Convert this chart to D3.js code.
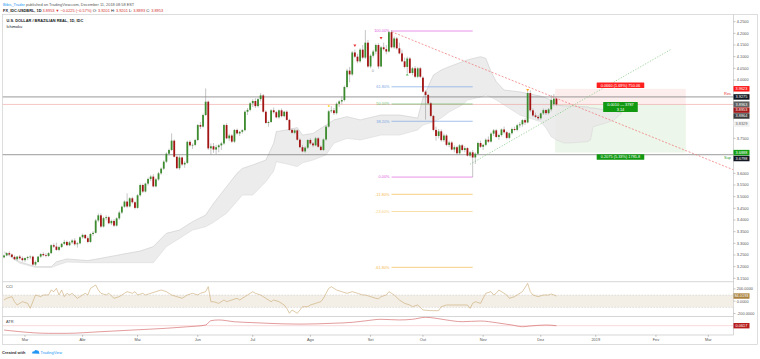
<!DOCTYPE html>
<html><head><meta charset="utf-8">
<script src="https://cdn.jsdelivr.net/npm/d3@7"></script>
<style>
body{margin:0;background:#fff;}
text{font-family:"Liberation Sans",Arial,sans-serif;font-size:3.9px;}
</style>
</head><body>
<svg id="c" width="760" height="359"></svg>
<script>
// ---------- DATA ----------
// one candle per weekday, index 0 = 2018-02-19 ; [open, high, low, close]
const candles = [
[3.240,3.252,3.236,3.248],[3.248,3.262,3.244,3.258],[3.258,3.266,3.248,3.252],[3.252,3.256,3.238,3.242],
[3.242,3.248,3.228,3.232],[3.232,3.246,3.226,3.243],[3.243,3.250,3.230,3.236],[3.236,3.244,3.222,3.228],
[3.228,3.240,3.220,3.237],[3.237,3.246,3.228,3.241],[3.241,3.248,3.232,3.243],[3.243,3.247,3.205,3.209],
[3.209,3.226,3.203,3.220],[3.220,3.246,3.216,3.243],[3.243,3.258,3.238,3.254],[3.254,3.262,3.244,3.249],
[3.249,3.258,3.240,3.246],[3.246,3.262,3.242,3.258],[3.258,3.296,3.254,3.292],[3.292,3.300,3.280,3.286],
[3.286,3.303,3.268,3.272],[3.272,3.290,3.266,3.284],[3.284,3.302,3.280,3.298],[3.298,3.315,3.292,3.306],
[3.306,3.312,3.288,3.292],[3.292,3.310,3.288,3.304],[3.304,3.318,3.298,3.312],[3.312,3.322,3.290,3.296],
[3.296,3.306,3.282,3.300],[3.300,3.330,3.296,3.326],[3.326,3.342,3.320,3.336],[3.336,3.340,3.318,3.322],
[3.322,3.330,3.300,3.306],[3.306,3.345,3.302,3.340],[3.340,3.352,3.332,3.345],[3.345,3.405,3.342,3.398],
[3.398,3.428,3.390,3.420],[3.420,3.428,3.366,3.372],[3.372,3.414,3.368,3.408],[3.408,3.420,3.398,3.412],
[3.412,3.418,3.382,3.386],[3.386,3.402,3.378,3.396],[3.396,3.404,3.370,3.376],[3.376,3.412,3.372,3.407],
[3.407,3.440,3.400,3.432],[3.432,3.462,3.426,3.457],[3.457,3.484,3.452,3.479],[3.479,3.514,3.452,3.458],
[3.458,3.498,3.454,3.493],[3.493,3.500,3.470,3.476],[3.476,3.480,3.446,3.452],[3.452,3.512,3.448,3.506],
[3.506,3.556,3.500,3.550],[3.550,3.556,3.516,3.522],[3.522,3.560,3.518,3.556],[3.556,3.582,3.548,3.576],
[3.576,3.592,3.566,3.586],[3.586,3.596,3.540,3.544],[3.544,3.580,3.540,3.574],[3.574,3.606,3.568,3.600],
[3.600,3.625,3.594,3.620],[3.620,3.656,3.614,3.650],[3.650,3.690,3.644,3.684],[3.684,3.706,3.676,3.700],
[3.700,3.771,3.695,3.740],[3.740,3.745,3.668,3.671],[3.671,3.676,3.618,3.622],[3.622,3.676,3.615,3.668],
[3.668,3.672,3.632,3.638],[3.638,3.652,3.624,3.645],[3.645,3.740,3.640,3.735],[3.735,3.742,3.715,3.720],
[3.720,3.728,3.705,3.722],[3.722,3.748,3.716,3.743],[3.743,3.812,3.738,3.807],[3.807,3.820,3.790,3.800],
[3.800,3.856,3.796,3.850],[3.850,3.964,3.845,3.907],[3.907,3.912,3.700,3.707],[3.707,3.728,3.680,3.716],
[3.716,3.730,3.688,3.702],[3.702,3.722,3.682,3.712],[3.712,3.725,3.690,3.720],[3.720,3.735,3.700,3.728],
[3.728,3.812,3.722,3.807],[3.807,3.815,3.746,3.750],[3.750,3.770,3.738,3.762],[3.762,3.768,3.730,3.736],
[3.736,3.790,3.730,3.786],[3.786,3.792,3.766,3.771],[3.771,3.782,3.760,3.778],[3.778,3.790,3.770,3.785],
[3.785,3.870,3.780,3.864],[3.864,3.880,3.850,3.872],[3.872,3.905,3.866,3.900],[3.900,3.918,3.884,3.910],
[3.910,3.922,3.880,3.888],[3.888,3.924,3.882,3.918],[3.918,3.944,3.908,3.934],[3.934,3.940,3.860,3.864],
[3.864,3.870,3.812,3.816],[3.816,3.826,3.800,3.820],[3.820,3.875,3.816,3.870],[3.870,3.882,3.856,3.862],
[3.862,3.868,3.836,3.840],[3.840,3.874,3.834,3.870],[3.870,3.878,3.840,3.845],[3.845,3.868,3.840,3.864],
[3.864,3.870,3.826,3.829],[3.829,3.834,3.782,3.786],[3.786,3.792,3.770,3.774],[3.774,3.790,3.768,3.784],
[3.784,3.788,3.740,3.744],[3.744,3.750,3.708,3.712],[3.712,3.722,3.690,3.694],[3.694,3.716,3.688,3.710],
[3.710,3.746,3.704,3.743],[3.743,3.750,3.722,3.728],[3.728,3.734,3.712,3.720],[3.720,3.756,3.716,3.750],
[3.750,3.756,3.710,3.714],[3.714,3.720,3.696,3.700],[3.700,3.750,3.696,3.745],[3.745,3.806,3.740,3.800],
[3.800,3.872,3.796,3.866],[3.866,3.888,3.858,3.870],[3.870,3.880,3.850,3.858],[3.858,3.904,3.852,3.898],
[3.898,3.914,3.884,3.908],[3.908,3.930,3.896,3.914],[3.914,3.976,3.908,3.970],[3.970,4.048,3.964,4.040],
[4.040,4.056,3.990,4.024],[4.024,4.124,4.018,4.118],[4.118,4.130,4.094,4.100],[4.100,4.112,4.072,4.080],
[4.080,4.136,4.074,4.130],[4.130,4.150,4.090,4.096],[4.096,4.214,4.090,4.160],[4.160,4.172,4.052,4.058],
[4.058,4.110,4.050,4.104],[4.104,4.130,4.096,4.122],[4.122,4.156,4.110,4.150],[4.150,4.158,4.048,4.058],
[4.058,4.146,4.054,4.140],[4.140,4.160,4.126,4.132],[4.132,4.150,4.110,4.122],[4.122,4.210,4.118,4.205],
[4.205,4.214,4.136,4.140],[4.140,4.186,4.134,4.178],[4.178,4.184,4.130,4.136],[4.136,4.160,4.110,4.114],
[4.114,4.130,4.076,4.080],[4.080,4.096,4.050,4.056],[4.056,4.100,4.030,4.092],[4.092,4.098,4.026,4.030],
[4.030,4.056,4.020,4.050],[4.050,4.060,4.008,4.014],[4.014,4.056,4.008,4.050],[4.050,4.056,4.008,4.014],
[4.010,4.016,3.946,3.950],[3.950,3.956,3.830,3.936],[3.936,3.940,3.896,3.900],[3.900,3.906,3.840,3.846],
[3.846,3.850,3.780,3.786],[3.786,3.800,3.740,3.760],[3.760,3.790,3.750,3.780],[3.780,3.788,3.736,3.742],
[3.742,3.770,3.734,3.762],[3.762,3.768,3.716,3.722],[3.722,3.740,3.712,3.732],[3.732,3.738,3.698,3.702],
[3.702,3.720,3.690,3.712],[3.712,3.718,3.680,3.686],[3.686,3.726,3.680,3.720],[3.720,3.726,3.694,3.700],
[3.700,3.716,3.690,3.708],[3.708,3.712,3.672,3.676],[3.676,3.696,3.668,3.690],[3.690,3.700,3.584,3.668],
[3.668,3.690,3.640,3.684],[3.684,3.736,3.680,3.730],[3.730,3.740,3.708,3.714],[3.714,3.726,3.700,3.722],
[3.722,3.750,3.716,3.744],[3.744,3.758,3.730,3.736],[3.736,3.776,3.732,3.770],[3.770,3.790,3.760,3.784],
[3.784,3.790,3.752,3.756],[3.756,3.770,3.744,3.764],[3.764,3.792,3.758,3.788],[3.788,3.800,3.770,3.776],
[3.776,3.782,3.746,3.752],[3.752,3.776,3.746,3.772],[3.772,3.796,3.766,3.790],[3.790,3.800,3.780,3.786],
[3.786,3.812,3.780,3.806],[3.806,3.820,3.796,3.810],[3.810,3.832,3.800,3.828],[3.828,3.836,3.808,3.818],
[3.818,3.952,3.814,3.944],[3.944,3.956,3.862,3.870],[3.870,3.878,3.842,3.848],[3.848,3.860,3.836,3.842],
[3.842,3.850,3.828,3.836],[3.836,3.860,3.830,3.857],[3.857,3.878,3.850,3.871],[3.871,3.876,3.850,3.858],
[3.858,3.880,3.852,3.874],[3.874,3.936,3.866,3.914],[3.896,3.940,3.888,3.920],[3.9201,3.9201,3.8893,3.8953]
];

// Ichimoku cloud edges: [bar index, upper span, lower span]
const cloud = [
[0,3.264,3.260],[6,3.221,3.215],[12,3.200,3.197],[18,3.200,3.196],[20,3.221,3.205],[24,3.233,3.220],
[32,3.226,3.217],[37,3.236,3.217],[47,3.257,3.217],[52,3.267,3.217],[57,3.286,3.217],[62,3.343,3.286],
[67,3.357,3.321],[72,3.393,3.357],[77,3.421,3.371],[80,3.471,3.390],[85,3.543,3.429],[89,3.600,3.480],
[91,3.621,3.507],[95,3.636,3.507],[100,3.657,3.564],[103,3.729,3.610],[104,3.779,3.650],[108,3.786,3.640],
[112,3.796,3.629],[114,3.764,3.645],[118,3.771,3.657],[123,3.807,3.679],[126,3.829,3.729],[131,3.843,3.750],
[136,3.829,3.743],[144,3.850,3.764],[151,3.850,3.764],[158,3.837,3.786],[160,3.923,3.807],[164,4.021,3.820],
[167,4.043,3.837],[170,4.057,3.863],[175,4.078,3.893],[177,4.086,3.914],[182,4.100,3.927],[184,4.093,3.936],
[186,4.036,3.927],[188,3.993,3.914],[191,3.957,3.893],[197,3.949,3.850],[205,3.931,3.821],[207,3.923,3.794],
[209,3.914,3.757],[211,3.893,3.743],[214,3.889,3.730],[216,3.889,3.730],[223,3.884,3.736],[224,3.880,3.743],
[225,3.880,3.800],[230,3.871,3.816],[233,3.867,3.829],[236,3.859,3.859]
];

// CCI (20): [bar index, value]
const cci = [
[0,20],[1,47],[3,74],[4,-8],[5,-62],[7,-8],[9,-35],[10,-116],[11,-8],[12,101],[14,74],[15,101],[17,101],
[18,182],[19,155],[20,209],[21,101],[22,182],[23,74],[24,128],[25,101],[26,128],[28,47],[29,74],[31,128],
[32,101],[33,209],[35,263],[36,182],[37,128],[39,101],[40,128],[42,47],[44,74],[46,128],[47,155],[49,128],
[50,155],[51,101],[53,128],[54,101],[56,128],[58,155],[60,182],[62,155],[64,101],[66,74],[68,47],[70,101],
[72,128],[74,101],[75,128],[77,155],[78,236],[79,-8],[80,-8],[82,-35],[84,20],[85,-8],[87,20],[89,47],
[90,20],[92,74],[93,101],[95,155],[96,128],[98,101],[100,47],[102,-8],[103,20],[105,-8],[107,-62],[108,-116],
[109,-197],[110,-143],[112,-197],[113,-143],[114,-89],[116,-89],[117,-62],[119,-35],[121,-8],[122,47],
[123,128],[124,209],[125,236],[127,182],[129,155],[131,128],[133,155],[135,128],[137,101],[138,101],[140,74],
[142,47],[143,40],[144,74],[146,101],[147,155],[149,101],[151,20],[153,-35],[155,-62],[156,-89],[158,-62],
[160,-143],[163,-154],[166,-154],[167,-89],[169,-62],[172,-62],[174,-62],[177,-62],[178,-116],[179,-35],
[180,-8],[182,-35],[183,47],[184,128],[186,155],[187,101],[188,128],[189,182],[191,128],[192,101],[193,47],
[195,74],[196,101],[198,155],[200,290],[201,155],[202,101],[204,74],[206,101],[208,101],[209,117],[211,84]
];

// ATR (14): [bar index, value]
const atr = [
[0,0.047],[6,0.0415],[17,0.036],[24,0.036],[37,0.0415],[49,0.047],[62,0.053],[70,0.058],[77,0.064],
[79,0.0786],[82,0.081],[88,0.075],[95,0.072],[100,0.070],[113,0.067],[126,0.070],[133,0.073],[138,0.078],
[144,0.0833],[151,0.081],[156,0.0833],[161,0.090],[165,0.0866],[169,0.081],[175,0.0752],[182,0.0775],
[188,0.0718],[194,0.064],[198,0.0583],[201,0.0607],[207,0.064],[211,0.0617]
];

const monthTickIdx = [8,30,51,74,95,117,140,160,183,205,226,249,269];
const monthTickLabels = ["Mar","Abr","Mai","Jun","Jul","Ago","Set","Out","Nov","Dez","2019","Fev","Mar"];
const priceTicks = [4.25,4.20,4.15,4.10,4.05,4.00,3.95,3.90,3.85,3.80,3.75,3.70,3.65,3.60,3.55,3.50,3.45,3.40,3.35,3.30,3.25,3.20,3.15];
const cciTicks = [200,0,-200];
const cciTickLabels = ["200.0000","0.0000","-200.0000"];

// Fibonacci retracement from the September high to the October low
const fibHigh = 4.210, fibLow = 3.584, fibFrom = 148, fibTo = 179;
const fibLevels = [1,0.618,0.5,0.382,0,-0.118,-0.236,-0.618];
const fibLabels = ["100.00%","61.80%","50.00%","38.20%","0.00%","-11.80%","-23.60%","-61.80%"];
const fibColors = ["#e060e0","#7aa6e6","#62bf62","#7aa6e6","#e060e0","#f4b94a","#f8cf7c","#f4b94a"];

// horizontal levels
const resLevel = 3.9275, supLevel = 3.6798, lastPrice = 3.8953;
// trend lines [index, price]
const downTrend = [[148,4.207],[278.4,3.616]];
const upTrend = [[178,3.639],[255,4.133]];
// short position tool
const posEntry = 3.8963, posStop = 3.9623, posTarget = 3.6888, posFrom = 210.5, posTo = 260.4;
const posTexts = ["0.0660 (1.69%) 750.06","0.0010 — 3787","3.14","0.2075 (5.33%) 1785.8"];
// signal markers [index, price, type]
const markers = [[134,4.147,"dn","#e53935"],[144,4.179,"dn","#e53935"],[154,4.024,"up","#66bb6a"],[200,3.956,"dn","#f9a825"],[124,3.889,"dot","#fdd835"]];
// right axis value labels [price, text, background, text colour]
const axisTags = [
[3.9623,"3.9623","#ff1a1a","#fff"],[3.9275,"3.9275","#131722","#fff"],[3.8963,"3.8963","#5d5d5d","#fff"],
[3.8953,"3.8953","#a11a1a","#fff"],[3.8864,"3.8864","#3c3c3c","#fff"],[3.8114,"3.8329","#f0f0f0","#666"],
[3.6888,"3.6888","#14a014","#fff"],[3.6798,"3.6798","#131722","#fff"]
];

// ---------- DRAW ----------
const svg = d3.select("#c");
const L = 2.5, R = 733.5, TOP = 14.5, P1 = 281.7, P2 = 316.5, P3 = 335, BOT = 344.5, OUTR = 757.5;
const x = d3.scaleLinear().domain([0, 280]).range([4.06, 4.06 + 280 * 2.618]);
const y = d3.scaleLinear().domain([3.15, 4.25]).range([80 + 0.85 * 233.333, 80 - 0.25 * 233.333]);
const yC = d3.scaleLinear().domain([-200, 200]).range([313.5, 288.9]);
const yA = d3.scaleLinear().domain([0.03, 0.09]).range([335.1, 317.3]);

const defs = svg.append("defs");
function clip(id, x0, y0, x1, y1) {
  defs.append("clipPath").attr("id", id).append("rect").attr("x", x0).attr("y", y0).attr("width", x1 - x0).attr("height", y1 - y0);
}
clip("cp", L, TOP, R, P1); clip("cc", L, P1, R, P2); clip("ca", L, P2, R, P3);

// header
const h1 = svg.append("text").attr("x", 3).attr("y", 5.8);
h1.append("tspan").attr("fill", "#2196f3").text("Bibis_Trader");
h1.append("tspan").attr("fill", "#555").text(" published on TradingView.com, December 11, 2018 08:58 EST");
const h2 = svg.append("text").attr("x", 3).attr("y", 11.6);
h2.append("tspan").attr("fill", "#131722").attr("font-weight", "bold").text("FX_IDC:USDBRL, 1D ");
const red = "#d32f2f";
[["3.8953 ", red], ["▼ ", red], ["−0.0225 (−0.57%) ", red], ["O: ", "#131722"], ["3.9201 ", red], ["H: ", "#131722"], ["3.9201 ", red], ["L: ", "#131722"], ["3.8893 ", red], ["C: ", "#131722"], ["3.8953", red]]
  .forEach(([t, c]) => h2.append("tspan").attr("fill", c).text(t));

// frames
svg.append("rect").attr("x", L).attr("y", TOP).attr("width", OUTR - L).attr("height", BOT - TOP).attr("fill", "none").attr("stroke", "#cfcfcf").attr("stroke-width", 0.7);
[[L, P1, R, P1], [L, P2, R, P2], [L, P3, R, P3], [R, TOP, R, P3]].forEach(([a, b, c, d]) =>
  svg.append("line").attr("x1", a).attr("y1", b).attr("x2", c).attr("y2", d).attr("stroke", "#c4c4c4").attr("stroke-width", 0.7));

const gp = svg.append("g").attr("clip-path", "url(#cp)");

// position tool zones
gp.append("rect").attr("x", x(posFrom)).attr("y", y(posStop)).attr("width", x(posTo) - x(posFrom)).attr("height", y(posEntry) - y(posStop)).attr("fill", "#fdeeee");
gp.append("rect").attr("x", x(posFrom)).attr("y", y(posEntry)).attr("width", x(posTo) - x(posFrom)).attr("height", y(posTarget) - y(posEntry)).attr("fill", "#edf6ea");

// cloud
const area = d3.area().x(d => x(d[0])).y0(d => y(d[2])).y1(d => y(d[1])).curve(d3.curveLinear);
gp.append("path").datum(cloud).attr("d", area).attr("fill", "#e9e9e9").attr("opacity", 0.85);
gp.append("path").datum(cloud).attr("d", d3.line().x(d => x(d[0])).y(d => y(d[1]))).attr("fill", "none").attr("stroke", "#c2c2c2").attr("stroke-width", 0.5);
gp.append("path").datum(cloud).attr("d", d3.line().x(d => x(d[0])).y(d => y(d[2]))).attr("fill", "none").attr("stroke", "#d4d4d4").attr("stroke-width", 0.5);

// horizontal levels
gp.append("line").attr("x1", L).attr("x2", R).attr("y1", y(resLevel)).attr("y2", y(resLevel)).attr("stroke", "#808080").attr("stroke-width", 0.8);
gp.append("line").attr("x1", L).attr("x2", R).attr("y1", y(supLevel)).attr("y2", y(supLevel)).attr("stroke", "#808080").attr("stroke-width", 0.8);
gp.append("line").attr("x1", L).attr("x2", R).attr("y1", y(lastPrice)).attr("y2", y(lastPrice)).attr("stroke", "#f0a0a0").attr("stroke-width", 0.6);
gp.append("text").attr("x", 731).attr("y", y(resLevel) - 2).attr("text-anchor", "end").attr("fill", "#e53935").attr("font-size", "3.4px").text("Res");
gp.append("text").attr("x", 731).attr("y", y(supLevel) + 4.2).attr("text-anchor", "end").attr("fill", "#2e9e2e").attr("font-size", "3.4px").text("Sup");

// fibonacci
fibLevels.forEach((lv, k) => {
  const p = fibLow + (fibHigh - fibLow) * lv;
  gp.append("line").attr("x1", x(fibFrom)).attr("x2", x(fibTo)).attr("y1", y(p)).attr("y2", y(p)).attr("stroke", fibColors[k]).attr("stroke-width", 0.8).attr("opacity", 0.85);
  gp.append("text").attr("x", x(fibFrom) - 2).attr("y", y(p) + 1.4).attr("text-anchor", "end").attr("fill", fibColors[k]).text(fibLabels[k]);
});

// trend lines
gp.append("line").attr("x1", x(downTrend[0][0])).attr("y1", y(downTrend[0][1])).attr("x2", x(downTrend[1][0])).attr("y2", y(downTrend[1][1]))
  .attr("stroke", "#f08080").attr("stroke-width", 0.8).attr("stroke-dasharray", "2,1.6");
gp.append("line").attr("x1", x(upTrend[0][0])).attr("y1", y(upTrend[0][1])).attr("x2", x(upTrend[1][0])).attr("y2", y(upTrend[1][1]))
  .attr("stroke", "#86c986").attr("stroke-width", 0.8).attr("stroke-dasharray", "1.2,1.6");

// candles
const cg = gp.append("g");
candles.forEach((c, i) => {
  const [o, h, l, cl] = c, up = cl >= o;
  cg.append("line").attr("x1", x(i)).attr("x2", x(i)).attr("y1", y(h)).attr("y2", y(l)).attr("stroke", "#8a8a8a").attr("stroke-width", 0.5);
  const top = y(Math.max(o, cl)), bh = Math.max(0.6, Math.abs(y(o) - y(cl)));
  cg.append("rect").attr("x", x(i) - 0.9).attr("y", top).attr("width", 1.8).attr("height", bh).attr("fill", up ? "#3d8b2f" : "#a31414");
});

// markers
markers.forEach(([i, p, t, c]) => {
  const cx = x(i), cy = y(p);
  if (t === "dn") gp.append("path").attr("d", `M${cx - 1.5},${cy - 1.2}L${cx + 1.5},${cy - 1.2}L${cx},${cy + 1.2}Z`).attr("fill", c);
  else if (t === "up") gp.append("path").attr("d", `M${cx - 1.5},${cy + 1.2}L${cx + 1.5},${cy + 1.2}L${cx},${cy - 1.2}Z`).attr("fill", c);
  else gp.append("circle").attr("cx", cx).attr("cy", cy).attr("r", 1).attr("fill", c);
});
gp.append("text").attr("x", x(140.9)).attr("y", y(4.039) + 1.3).attr("text-anchor", "middle").attr("fill", "#999").text("0");

// position labels
function tag(cx, cy, lines, bg) {
  const g = svg.append("g");
  const txts = lines.map((t, k) => g.append("text").attr("x", cx).attr("y", cy + 1.4 + (k - (lines.length - 1) / 2) * 4.6).attr("text-anchor", "middle").attr("fill", "#fff").text(t));
  const w = d3.max(txts, t => t.node().getComputedTextLength()) + 8;
  const hh = 5.6 + (lines.length - 1) * 4.6;
  g.insert("rect", "text").attr("x", cx - w / 2).attr("y", cy - hh / 2).attr("width", w).attr("height", hh).attr("fill", bg).attr("rx", 0.6);
}
const pcx = (x(posFrom) + x(posTo)) / 2;
tag(pcx, y(posStop) - 3.6, [posTexts[0]], "#ff1f1f");
tag(pcx, y(posEntry) + 2.8, [posTexts[1], posTexts[2]], "#119911");
tag(pcx, y(posTarget) + 4.4, [posTexts[3]], "#119911");

// pane titles
svg.append("text").attr("x", 6.5).attr("y", 22).attr("font-weight", "bold").attr("fill", "#131722").text("U.S. DOLLAR / BRAZILIAN REAL, 1D, IDC");
svg.append("text").attr("x", 6.5).attr("y", 28).attr("fill", "#131722").text("Ichimoku");
svg.append("text").attr("x", 6).attr("y", 288).attr("fill", "#444").text("CCI");
svg.append("text").attr("x", 6).attr("y", 323).attr("fill", "#444").text("ATR");

// CCI pane
const gc = svg.append("g").attr("clip-path", "url(#cc)");
gc.append("rect").attr("x", L).attr("width", R - L).attr("y", yC(100)).attr("height", yC(-100) - yC(100)).attr("fill", "#f3efe7");
[100, -100].forEach(v => gc.append("line").attr("x1", L).attr("x2", R).attr("y1", yC(v)).attr("y2", yC(v)).attr("stroke", "#c8c8c8").attr("stroke-width", 0.5).attr("stroke-dasharray", "1.5,1.5"));
gc.append("path").datum(cci).attr("d", d3.line().x(d => x(d[0])).y(d => yC(d[1]))).attr("fill", "none").attr("stroke", "#c9a76e").attr("stroke-width", 0.6);

// ATR pane
const ga = svg.append("g").attr("clip-path", "url(#ca)");
const lastAtr = atr[atr.length - 1][1];
ga.append("line").attr("x1", L).attr("x2", R).attr("y1", yA(lastAtr)).attr("y2", yA(lastAtr)).attr("stroke", "#f3b5b5").attr("stroke-width", 0.5);
ga.append("path").datum(atr).attr("d", d3.line().x(d => x(d[0])).y(d => yA(d[1])).curve(d3.curveMonotoneX)).attr("fill", "none").attr("stroke", "#d0595b").attr("stroke-width", 0.6);

// right axis: tags placed top-down without overlap
const tagH = 5.9;
const placed = [];
axisTags.slice().sort((a, b) => b[0] - a[0]).forEach(t => {
  let yy = y(t[0]);
  if (placed.length && yy < placed[placed.length - 1].y + tagH) yy = placed[placed.length - 1].y + tagH;
  placed.push({ y: yy, t });
});
priceTicks.forEach(p => {
  const yy = y(p);
  if (placed.some(q => Math.abs(q.y - yy) < 5)) return;
  svg.append("line").attr("x1", R).attr("x2", R + 2).attr("y1", yy).attr("y2", yy).attr("stroke", "#888").attr("stroke-width", 0.5);
  svg.append("text").attr("x", R + 3.3).attr("y", yy + 1.4).attr("fill", "#555").text(p.toFixed(4));
});
placed.forEach(({ y: yy, t }) => {
  svg.append("rect").attr("x", R).attr("y", yy - tagH / 2 + 0.2).attr("width", 16).attr("height", tagH - 0.4).attr("fill", t[2]);
  svg.append("text").attr("x", R + 8).attr("y", yy + 1.4).attr("text-anchor", "middle").attr("fill", t[3]).text(t[1]);
});
cciTicks.forEach((v, k) => {
  svg.append("line").attr("x1", R).attr("x2", R + 2).attr("y1", yC(v)).attr("y2", yC(v)).attr("stroke", "#888").attr("stroke-width", 0.5);
  svg.append("text").attr("x", R + 3.3).attr("y", yC(v) + 1.4).attr("fill", "#555").text(cciTickLabels[k]);
});
const lastCci = cci[cci.length - 1][1];
svg.append("rect").attr("x", R).attr("y", yC(lastCci) - 2.7).attr("width", 16).attr("height", 5.4).attr("fill", "#a8823e");
svg.append("text").attr("x", R + 8).attr("y", yC(lastCci) + 1.4).attr("text-anchor", "middle").attr("fill", "#fff").text("84.0193");
svg.append("rect").attr("x", R).attr("y", yA(lastAtr) - 2.7).attr("width", 16).attr("height", 5.4).attr("fill", "#b71c1c");
svg.append("text").attr("x", R + 8).attr("y", yA(lastAtr) + 1.4).attr("text-anchor", "middle").attr("fill", "#fff").text(lastAtr.toFixed(4));

// time axis
monthTickIdx.forEach((i, k) => {
  svg.append("line").attr("x1", x(i)).attr("x2", x(i)).attr("y1", P3).attr("y2", P3 + 1.8).attr("stroke", "#888").attr("stroke-width", 0.5);
  svg.append("text").attr("x", x(i)).attr("y", 341.3).attr("text-anchor", "middle").attr("fill", "#555").text(monthTickLabels[k]);
});

// footer
const ft = svg.append("text").attr("x", 2).attr("y", 354);
ft.append("tspan").attr("fill", "#333").attr("font-weight", "bold").text("Created with ");
svg.append("path").attr("d", "M32.2,353.6 q-0.4,-2.6 2.2,-2.4 q0.8,-1.8 2.8,-0.6 q2,-0.2 1.8,2 q1,0.6 0.2,1.2 Z").attr("fill", "#2196f3");
svg.append("text").attr("x", 40.6).attr("y", 354).attr("fill", "#2196f3").text("TradingView");
</script>
</body></html>
